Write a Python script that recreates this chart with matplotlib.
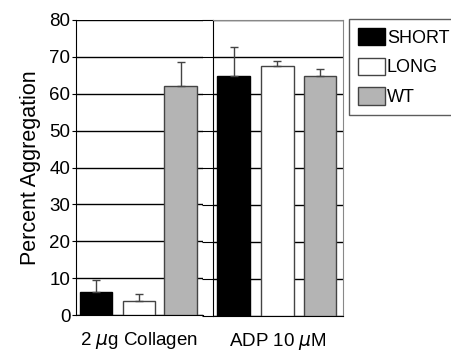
import matplotlib.pyplot as plt
from matplotlib.patches import Patch

plt.rcParams['font.family'] = ['Liberation Sans', 'DejaVu Sans']

# data
conditions = ['2 $\\mu$g Collagen', 'ADP 10 $\\mu$M']
groups = ['SHORT', 'LONG', 'WT']
means = {
    '2 $\\mu$g Collagen': [6.3, 3.8, 62.2],
    'ADP 10 $\\mu$M': [65.0, 67.6, 65.0],
}
errors = {
    '2 $\\mu$g Collagen': [3.2, 2.0, 6.3],
    'ADP 10 $\\mu$M': [7.8, 1.4, 1.8],
}
fills = ['black', 'white', '#b4b4b4']
edges = ['black', '#444444', '#444444']
yticks = [0, 10, 20, 30, 40, 50, 60, 70, 80]

W, H = 452, 352
fig = plt.figure(figsize=(W / 100, H / 100), dpi=100)

def px_axes(x0, y0, x1, y1):
    return fig.add_axes([x0 / W, 1 - y1 / H, (x1 - x0) / W, (y1 - y0) / H])

ax1 = px_axes(76, 20, 203, 315)
ax2 = px_axes(213, 20, 343, 316)

xpos = [0.48, 1.48, 2.47]
for ax, cond in zip([ax1, ax2], conditions):
    ax.bar(xpos, means[cond], width=0.76, color=fills, edgecolor=edges,
           linewidth=1, zorder=3)
    ax.errorbar(xpos, means[cond], yerr=[[0, 0, 0], errors[cond]], fmt='none',
                ecolor='#444444', elinewidth=1, capsize=3, capthick=1, zorder=4)
    ax.set_xlim(0, 3)
    ax.set_ylim(0, 80)
    ax.set_yticks(yticks)
    ax.set_xticks([])
    ax.yaxis.grid(True, color='black', linewidth=1)
    ax.set_axisbelow(True)
    ax.set_xlabel(cond, fontsize=13.5, labelpad=11)

ax1.spines['top'].set_visible(False)
ax1.spines['right'].set_visible(False)
ax1.tick_params(axis='y', length=3, labelsize=13.5, pad=1)
ax1.set_ylabel('Percent Aggregation', fontsize=15.5, labelpad=6)

ax2.tick_params(axis='y', length=8, labelleft=False)
for s in ['right', 'top']:
    ax2.spines[s].set_color('#888888')

handles = [Patch(facecolor=f, edgecolor=e, label=g)
           for f, e, g in zip(fills, edges, groups)]
fig.legend(handles=handles, loc='upper left', bbox_to_anchor=(349 / W, 1 - 19 / H),
           fontsize=13, frameon=True, fancybox=False, edgecolor='#333333',
           handlelength=1.5, handleheight=1.1, handletextpad=0.1,
           labelspacing=0.6, borderpad=0.5, borderaxespad=0)

plt.savefig('out.png', dpi=100)
